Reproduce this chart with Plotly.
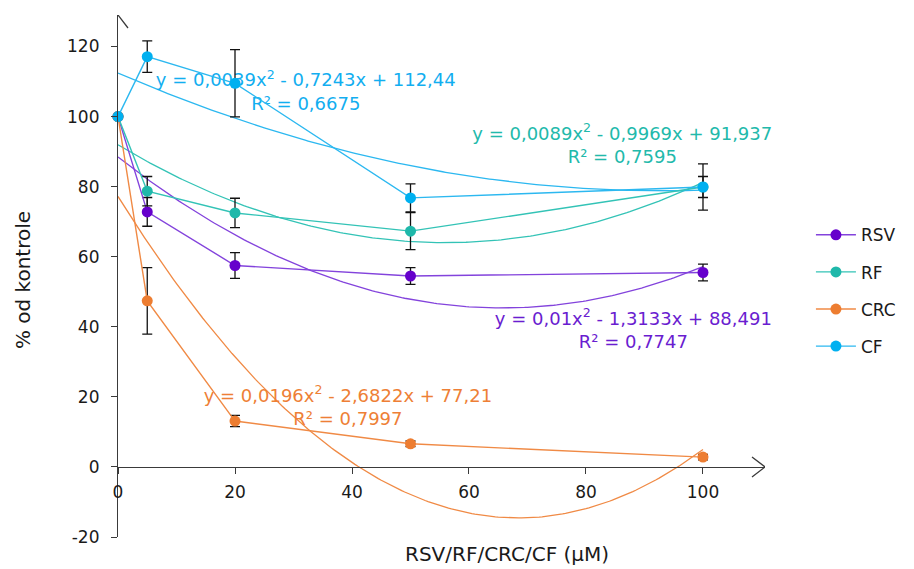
import numpy as np
import plotly.graph_objects as go

# ---------------- data ----------------
concentrations = [0, 5, 20, 50, 100]

rsv = [100, 72.8, 57.5, 54.5, 55.5]
rsv_err = [None, 4.1, 3.7, 2.4, 2.4]
rf = [100, 78.7, 72.5, 67.3, 79.9]
rf_err = [None, 4.2, 4.2, 5.3, 3.0]
crc = [100, 47.4, 13.1, 6.6, 2.8]
crc_err = [None, 9.5, 1.6, 0.8, 0.8]
cf = [100, 117.1, 109.5, 76.8, 79.9]
cf_err = [None, 4.5, 9.6, 4.0, 6.6]

# polynomial trendline coefficients (a*x^2 + b*x + c), as printed on the chart
rsv_fit = [0.01, -1.3133, 88.491]
rf_fit = [0.0089, -0.9969, 91.937]
crc_fit = [0.0196, -2.6822, 77.21]
cf_fit = [0.0039, -0.7243, 112.44]

rsv_eq = ["y = 0,01x<sup>2</sup> - 1,3133x + 88,491", "R² = 0,7747"]
rf_eq = ["y = 0,0089x<sup>2</sup> - 0,9969x + 91,937", "R² = 0,7595"]
crc_eq = ["y = 0,0196x<sup>2</sup> - 2,6822x + 77,21", "R² = 0,7997"]
cf_eq = ["y = 0,0039x<sup>2</sup> - 0,7243x + 112,44", "R² = 0,6675"]

# label anchor positions (data coords) for the equations
rsv_eq_pos = ([88.1, 88.1], [41.9, 35.2])
rf_eq_pos = ([86.2, 86.2], [94.7, 88.1])
crc_eq_pos = ([39.3, 39.3], [19.9, 13.3])
cf_eq_pos = ([32.1, 32.1], [109.9, 103.3])

x_ticks = [0, 20, 40, 60, 80, 100]
y_ticks = [-20, 0, 20, 40, 60, 80, 100, 120]
y_tick_text = ["-20", "0", "20", "40", "60", "80", "100", "120"]

series_names = ["RSV", "RF", "CRC", "CF"]
marker_colors = ["#6600cc", "#1fb8aa", "#ed7d31", "#00b0f0"]
line_colors = ["#8343dc", "#33c3b6", "#f08a45", "#2cb8f0"]
text_colors = ["#6a1dd0", "#22b9ab", "#ee7f36", "#12aef0"]

values = [rsv, rf, crc, cf]
errors = [rsv_err, rf_err, crc_err, cf_err]
fits = [rsv_fit, rf_fit, crc_fit, cf_fit]
eqs = [rsv_eq, rf_eq, crc_eq, cf_eq]
eq_pos = [rsv_eq_pos, rf_eq_pos, crc_eq_pos, cf_eq_pos]

FONT = "DejaVu Sans"
AXIS_COLOR = "#3a3a3a"

fig = go.Figure()

# trendlines
xfit = np.linspace(0, 100, 201)
for name, coef, col in zip(series_names, fits, line_colors):
    yfit = np.polyval(coef, xfit)
    fig.add_trace(go.Scatter(x=xfit, y=yfit, mode="lines",
                             line=dict(color=col, width=1.3),
                             showlegend=False, hoverinfo="skip",
                             cliponaxis=False))

# equation labels (drawn below the data markers)
for eq, pos, col in zip(eqs, eq_pos, text_colors):
    fig.add_trace(go.Scatter(x=pos[0], y=pos[1], mode="text", text=eq,
                             textposition="middle center",
                             textfont=dict(family=FONT, size=18, color=col),
                             showlegend=False, hoverinfo="skip",
                             cliponaxis=False))

# data series
for name, vals, err, mc, lc in zip(series_names, values, errors, marker_colors, line_colors):
    fig.add_trace(go.Scatter(
        x=concentrations, y=vals, name=name, mode="lines+markers",
        line=dict(color=lc, width=1.4),
        marker=dict(color=mc, size=11),
        error_y=dict(type="data", array=err, visible=True,
                     color="#111111", thickness=1.3, width=5),
        legendgroup=name, cliponaxis=False))

ymin, ymax = -20, 129
xmax = 110.6

# the page body adds an 8px offset, so the figure is 8px smaller than the window
fig.update_layout(
    width=906, height=561, autosize=False,
    margin=dict(l=110, r=149, t=7, b=32),
    paper_bgcolor="white", plot_bgcolor="white",
    font=dict(family=FONT, size=17, color="#1a1a1a"),
    showlegend=True,
    legend=dict(x=1.071, y=0.4717, xanchor="left", yanchor="middle",
                font=dict(family=FONT, size=17, color="#1a1a1a"),
                tracegroupgap=12, itemwidth=40, bgcolor="rgba(0,0,0,0)"),
    xaxis=dict(range=[0, xmax], tickvals=x_ticks, ticks="outside", ticklen=6,
               tickcolor=AXIS_COLOR, tickwidth=1.2,
               showline=True, linecolor=AXIS_COLOR, linewidth=1.2,
               showgrid=False, zeroline=False, automargin=False,
               anchor="free", position=(0 - ymin) / (ymax - ymin),
               tickfont=dict(family=FONT, size=17, color="#1a1a1a"),
               ticklabelstandoff=4),
    yaxis=dict(range=[ymin, ymax], tickvals=y_ticks, ticktext=y_tick_text,
               ticks="outside", ticklen=6,
               tickcolor=AXIS_COLOR, tickwidth=1.2,
               showline=True, linecolor=AXIS_COLOR, linewidth=1.2,
               showgrid=False, zeroline=False, automargin=False,
               tickfont=dict(family=FONT, size=17, color="#1a1a1a"),
               ticklabelstandoff=8),
    annotations=[
        dict(text="RSV/RF/CRC/CF (µM)", xref="paper", yref="paper",
             x=0.601, y=-0.032, xanchor="center", yanchor="middle",
             showarrow=False, font=dict(family=FONT, size=20, color="#1a1a1a")),
        dict(text="% od kontrole", xref="paper", yref="paper",
             x=-0.147, y=0.492, xanchor="center", yanchor="middle",
             textangle=-90, showarrow=False,
             font=dict(family=FONT, size=20, color="#1a1a1a")),
    ],
    shapes=[
        dict(type="path", xref="x", yref="y", xsizemode="pixel", ysizemode="pixel",
             xanchor=0, yanchor=ymax, path="M -10,-13 L 0,0 L 10,-13",
             line=dict(color=AXIS_COLOR, width=1.3)),
        dict(type="path", xref="x", yref="y", xsizemode="pixel", ysizemode="pixel",
             xanchor=xmax, yanchor=0, path="M -13,10 L 0,0 L -13,-10",
             line=dict(color=AXIS_COLOR, width=1.3)),
    ],
)

fig.write_html("out.html")
